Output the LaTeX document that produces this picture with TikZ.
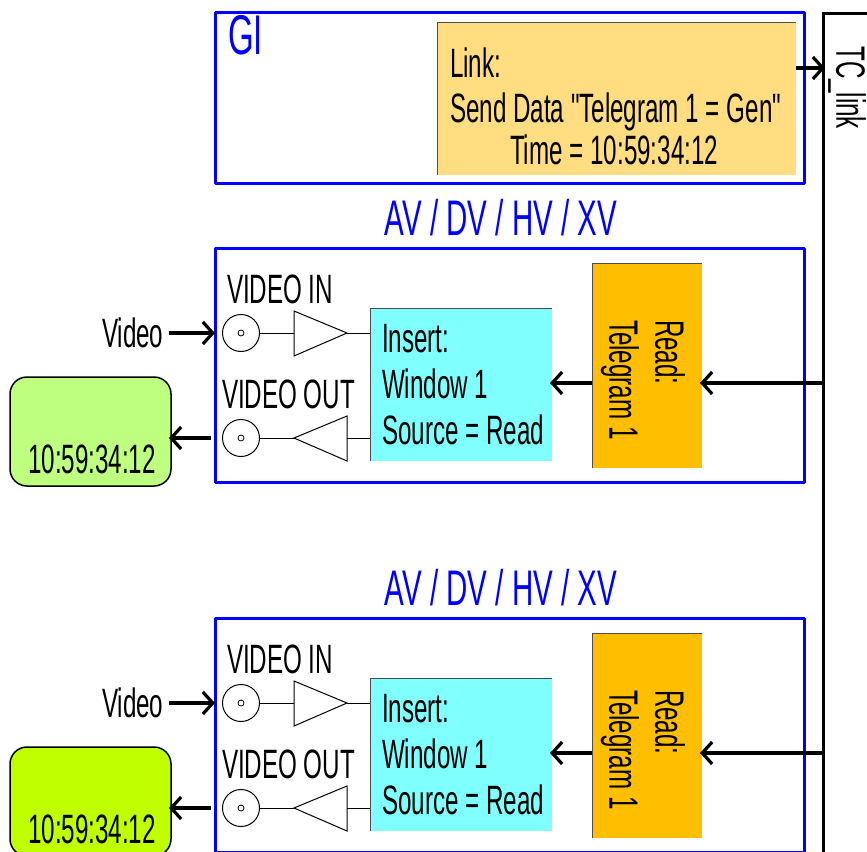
\documentclass[tikz,border=0pt]{standalone}
\usepackage{fontspec}
\setmainfont[FakeStretch=0.59]{Liberation Sans}
\newfontfamily\plainq[FakeStretch=0.59]{Liberation Sans}
\usetikzlibrary{arrows.meta}
\definecolor{sigblue}{RGB}{0,0,255}
\definecolor{linkfill}{RGB}{255,221,128}
\definecolor{readfill}{RGB}{255,190,0}
\definecolor{insfill}{RGB}{128,255,255}
\definecolor{monA}{RGB}{191,255,128}
\definecolor{monB}{RGB}{191,255,0}
\tikzset{
  txt/.style={inner sep=0pt,outer sep=0pt,font=\fontsize{41}{46}\selectfont,align=left,text=black},
  frameblue/.style={draw=sigblue,line width=3pt,line join=round},
  fillbox/.style={inner sep=0pt,outer sep=0pt,anchor=north west},
  sig/.style={line width=3.2pt,shorten >=-2pt,-{Straight Barb[length=10pt,width=22pt,line width=3.2pt]},black},
  thinl/.style={line width=1pt,black},
  edge/.style={line width=0.8pt,black!70},
  monitor/.style={draw=black,line width=1.5pt,rounded corners=17pt,inner sep=0pt,outer sep=0pt,anchor=north west,minimum width=161pt,minimum height=109pt},
  jack/.style={circle,draw=black,line width=1pt,fill=white,minimum size=37pt,inner sep=0pt,outer sep=0pt},
  pin/.style={circle,draw=black,line width=0.8pt,minimum size=6pt,inner sep=0pt},
}
\newcommand{\avgroup}[3]{%
\begin{scope}[yshift=-#2pt]
  \node[txt,text=sigblue,anchor=base,font=\fontsize{50}{50}\selectfont] (title#1) at (501,235) {AV / DV / HV / XV};
  \node[frameblue,fillbox,minimum width=589pt,minimum height=234pt] (frame#1) at (215,248) {};
  \node[fillbox,fill=readfill,minimum width=110pt,minimum height=205pt] (read#1) at (592,263) {};
  \draw[edge] (read#1.south west)--(read#1.north west)--(read#1.north east);
  \node[txt,rotate=-90,anchor=north west,align=left] (readtxt#1) at (685,320) {Read:\\Telegram 1};
  \node[fillbox,fill=insfill,minimum width=182pt,minimum height=153pt] (ins#1) at (370,308) {};
  \draw[edge] (ins#1.south west)--(ins#1.north west)--(ins#1.north east);
  \node[txt,anchor=base west] (instxt#1) at (382,444) {Insert:\\[0pt]Window 1\\[0pt]Source = Read};
  \node[txt,anchor=base west] (vin#1) at (227,303) {VIDEO IN};
  \node[txt,anchor=base west] (vout#1) at (222,408) {VIDEO OUT};
  \node[jack] (ji#1) at (241,333) {};
  \node[pin] (pi#1) at (241,333) {};
  \node[jack] (jo#1) at (241,438) {};
  \node[pin] (po#1) at (241,438) {};
  \coordinate (tia#1) at (294,333);
  \coordinate (tib#1) at (347,333);
  \coordinate (toa#1) at (294,438);
  \coordinate (tob#1) at (347,438);
  \draw[thinl,line join=miter] (294,311)--(347,333)--(294,356)--cycle;
  \draw[thinl,line join=miter] (347,416)--(294,438)--(347,461)--cycle;
  \draw[thinl] (ji#1)--(tia#1);
  \draw[thinl] (tib#1)--(ins#1.west |- tib#1);
  \draw[thinl] (jo#1)--(toa#1);
  \draw[thinl] (tob#1)--(ins#1.west |- tob#1);
  \node[txt,anchor=base west] (vsrc#1) at (102,347) {Video};
  \coordinate (vs#1) at (169,333);
  \coordinate (ve#1) at (213,333);
  \draw[sig] (vs#1)--(ve#1);
  \node[monitor,fill=#3] (mon#1) at (10,377) {};
  \node[txt,anchor=base] (tc#1) at (92,473) {10:59:34:12};
  \coordinate (os#1) at (211,438);
  \draw[sig] (os#1)--(mon#1.east |- os#1);
  \coordinate (ts#1) at (823,383);
  \draw[sig] (ts#1)--(read#1.east |- ts#1);
  \draw[sig] (read#1.west |- ts#1)--(ins#1.east |- ts#1);
\end{scope}}
\begin{document}
\begin{tikzpicture}[x=1pt,y=-1pt]
\useasboundingbox (0,0) rectangle (867,851);
\clip (0,0) rectangle (867,851);
\fill[white] (0,0) rectangle (867,851);
\node[frameblue,fillbox,minimum width=589pt,minimum height=170pt] (gi) at (215,13) {};
\node[txt,anchor=base west,text=sigblue,font=\fontsize{56}{56}\selectfont] (gilabel) at (228,55) {GI};
\node[fillbox,fill=linkfill,minimum width=359pt,minimum height=153pt] (link) at (437,22) {};
\draw[edge] (link.south west)--(link.north west)--(link.north east);
\node[txt,anchor=base west] (linktxt) at (450,164) {Link:\\[-1pt]Send Data {\plainq"}Telegram 1 = Gen{\plainq"}\\[-4pt]\hspace*{60pt}Time = 10:59:34:12};
\node[draw=black,line width=3pt,fillbox,minimum width=70pt,minimum height=860pt] (tcbox) at (823,14) {};
\node[txt,rotate=-90,anchor=north west] (tclabel) at (866,47) {TC\symbol{95}link};
\coordinate (ls) at (796,68);
\draw[sig] (ls)--(tcbox.west |- ls);
\avgroup{a}{0}{monA}
\avgroup{b}{370}{monB}
\end{tikzpicture}
\end{document}
